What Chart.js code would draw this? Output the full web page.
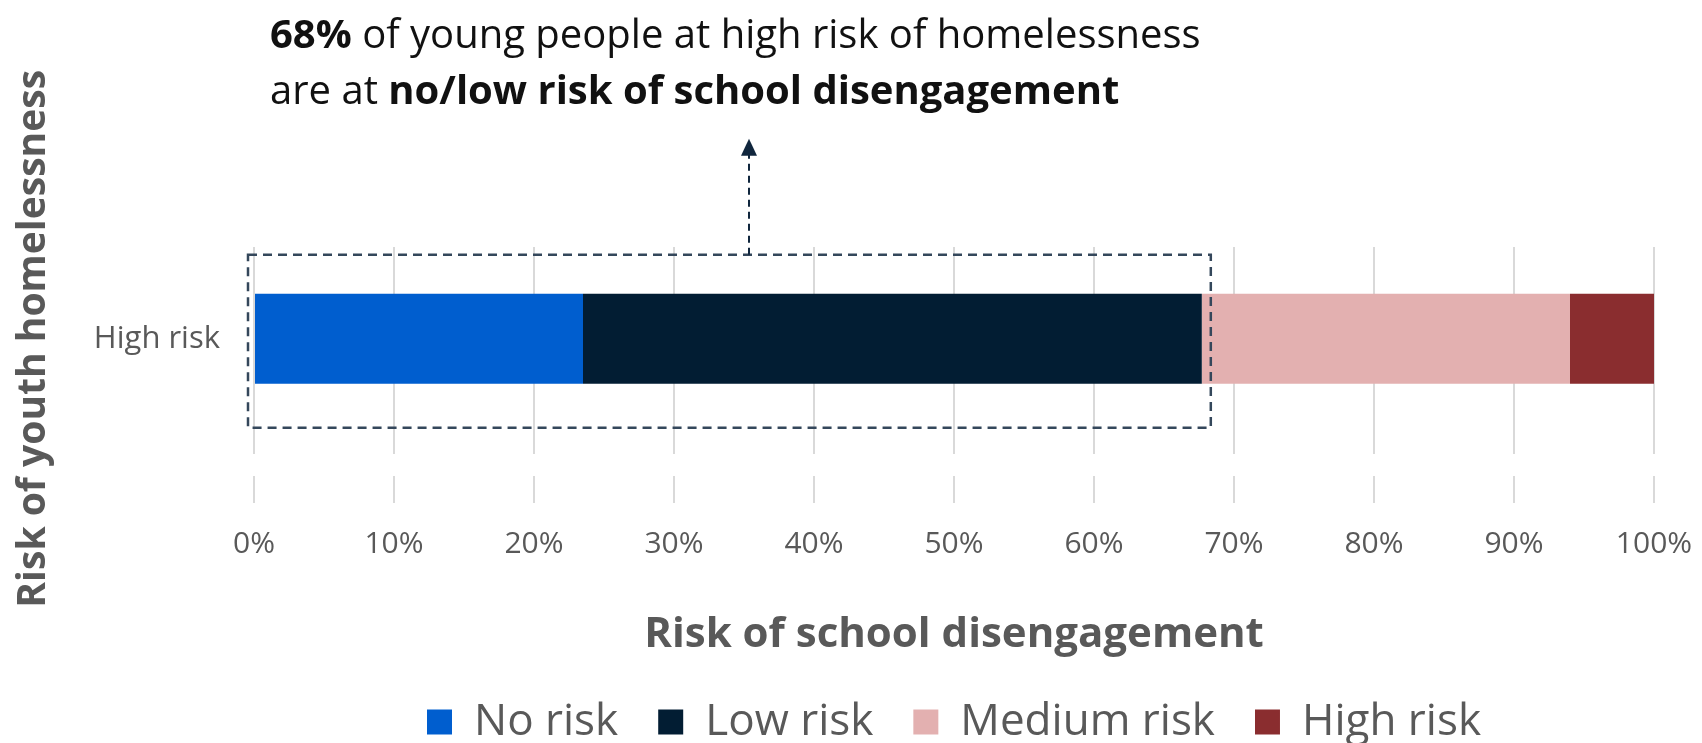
<!DOCTYPE html>
<html>
<head>
<meta charset="utf-8">
<title>Risk of school disengagement</title>
<script src="https://cdn.jsdelivr.net/npm/chart.js@4.4.1/dist/chart.umd.min.js"></script>
<style>
  html, body { margin: 0; padding: 0; background: #fff; }
  #wrap { width: 1702px; height: 743px; }
</style>
</head>
<body>
<div id="wrap"><canvas id="riskChart"></canvas></div>
<script>
// values (percent of young people)
const categories = ['High risk'];
const seriesNames = ['No risk', 'Low risk', 'Medium risk', 'High risk'];
const noRisk = [23.5];
const lowRisk = [44.2];
const mediumRisk = [26.3];
const highRisk = [6.0];
const xTickLabels = ['0%', '10%', '20%', '30%', '40%', '50%', '60%', '70%', '80%', '90%', '100%'];

const seriesColors = ['#005ecf', '#021d33', '#e3b0b0', '#8a2d2f'];
const grey = '#595959';

Chart.defaults.font.family = "'Open Sans', 'Noto Sans', sans-serif";

// draws a line made of bold / regular pieces
function drawRuns(ctx, runs, x, y) {
  runs.forEach(([text, bold]) => {
    ctx.font = (bold ? 'bold ' : '') + "40px 'Open Sans'";
    ctx.fillText(text, x, y);
    x += ctx.measureText(text).width;
  });
}

// dashed box round the no/low part of the bar, arrow and the callout text
const calloutPlugin = {
  id: 'callout',
  afterDraw(chart) {
    const ctx = chart.ctx;
    const x = chart.scales.x;
    const bar = chart.getDatasetMeta(0).data[0];
    const share = noRisk[0] + lowRisk[0];

    const left = x.getPixelForValue(0) - 6;
    const right = x.getPixelForValue(share) + 9;
    const top = bar.y - bar.height / 2 - 39;
    const bottom = bar.y + bar.height / 2 + 44;

    ctx.save();
    ctx.strokeStyle = '#34475b';
    ctx.lineWidth = 2.5;
    ctx.setLineDash([9, 6]);
    ctx.strokeRect(left, top, right - left, bottom - top);

    const ax = Math.round(left + (right - left) * 0.52);
    ctx.strokeStyle = '#10263d';
    ctx.lineWidth = 2;
    ctx.setLineDash([7, 5]);
    ctx.beginPath();
    ctx.moveTo(ax, top);
    ctx.lineTo(ax, top - 100);
    ctx.stroke();
    ctx.setLineDash([]);
    ctx.fillStyle = '#10263d';
    ctx.beginPath();
    ctx.moveTo(ax, top - 116);
    ctx.lineTo(ax - 8, top - 99);
    ctx.lineTo(ax + 8, top - 99);
    ctx.closePath();
    ctx.fill();

    ctx.fillStyle = '#111';
    ctx.textBaseline = 'alphabetic';
    ctx.textAlign = 'left';
    drawRuns(ctx, [[Math.round(share) + '%', true], [' of young people at high risk of homelessness', false]], 270, 48);
    drawRuns(ctx, [['are at ', false], ['no/low risk of school disengagement', true]], 270, 104);
    ctx.restore();
  }
};

const seriesData = [noRisk, lowRisk, mediumRisk, highRisk];

new Chart(document.getElementById('riskChart'), {
  type: 'bar',
  data: {
    labels: categories,
    datasets: seriesNames.map((name, i) => ({
      label: name,
      data: seriesData[i],
      backgroundColor: seriesColors[i],
      borderWidth: 0,
      categoryPercentage: 1,
      barPercentage: 0.49
    }))
  },
  options: {
    indexAxis: 'y',
    responsive: true,
    maintainAspectRatio: false,
    animation: false,
    layout: { padding: { top: 247, right: 48, left: 0, bottom: 0 } },
    plugins: {
      tooltip: { enabled: false },
      legend: {
        position: 'bottom',
        fullSize: false,
        maxHeight: 83,
        labels: {
          boxWidth: 25,
          boxHeight: 25,
          padding: 40,
          color: grey,
          font: { size: 44 }
        }
      }
    },
    scales: {
      x: {
        stacked: true,
        min: 0,
        max: 100,
        border: { display: false },
        grid: {
          color: '#d9d9d9',
          lineWidth: 2,
          drawTicks: true,
          // tick line continues the grid line, breaks, then a short tick mark
          tickLength: 96,
          tickColor: '#d9d9d9',
          tickWidth: 2,
          tickBorderDash: [23, 22, 27, 1000]
        },
        ticks: {
          stepSize: 10,
          maxRotation: 0,
          autoSkip: false,
          padding: 0,
          color: grey,
          font: { size: 30 },
          callback: (value, index) => xTickLabels[index]
        },
        title: {
          display: true,
          text: 'Risk of school disengagement',
          color: grey,
          font: { size: 42, weight: 'bold' },
          padding: { top: 47, bottom: 0 }
        }
      },
      y: {
        stacked: true,
        border: { display: false },
        grid: { display: false, drawTicks: false },
        ticks: {
          padding: 34,
          color: grey,
          font: { size: 31 }
        },
        title: {
          display: true,
          text: 'Risk of youth homelessness',
          color: grey,
          font: { size: 39, weight: 'bold' },
          padding: { top: 10, bottom: 0 }
        },
        afterFit(scale) {
          scale.width = 254;
        }
      }
    }
  },
  plugins: [calloutPlugin]
});
</script>
</body>
</html>
